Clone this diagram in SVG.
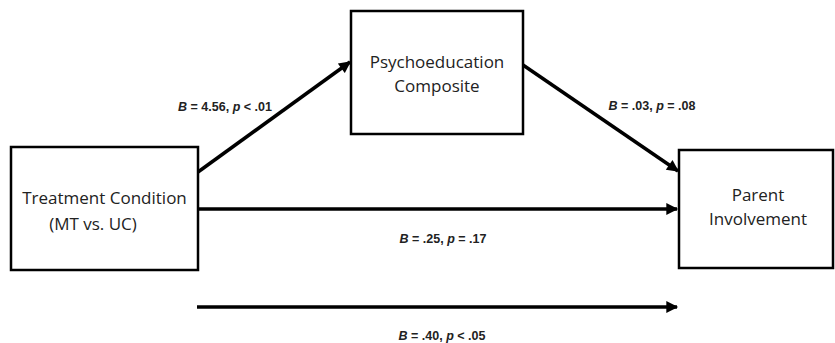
<svg xmlns="http://www.w3.org/2000/svg" width="835" height="343" viewBox="0 0 835 343">
<style>
.box{fill:#fff;stroke:#000;stroke-width:2.5}
.t{font-family:"Open Sans","Liberation Sans",sans-serif;font-size:17px;fill:#222;text-anchor:middle}
.l{font-family:"Liberation Sans",Arial,sans-serif;font-size:12.5px;font-weight:bold;fill:#222;text-anchor:middle}
.c{stroke:#000;stroke-width:3.5;fill:none;marker-end:url(#ah)}
</style>
<defs>
<marker id="ah" viewBox="0 0 10 10" refX="9" refY="5" markerWidth="3.8" markerHeight="3.4" orient="auto" markerUnits="strokeWidth">
<path d="M0,0 L10,5 L0,10 z" fill="#000"/>
</marker>
</defs>
<rect width="835" height="343" fill="#fff"/>
<g id="connectors">
<line class="c" x1="198" y1="172" x2="350" y2="62"/>
<line class="c" x1="523" y1="65" x2="678" y2="171"/>
<line class="c" x1="198" y1="209" x2="677" y2="209"/>
<line class="c" x1="197" y1="307" x2="677" y2="307"/>
<text class="l" x="225" y="111"><tspan font-style="italic">B</tspan> = 4.56, <tspan font-style="italic">p</tspan> &lt; .01</text>
<text class="l" x="652" y="110"><tspan font-style="italic">B</tspan> = .03, <tspan font-style="italic">p</tspan> = .08</text>
<text class="l" x="443" y="243"><tspan font-style="italic">B</tspan> = .25, <tspan font-style="italic">p</tspan> = .17</text>
<text class="l" x="442" y="340"><tspan font-style="italic">B</tspan> = .40, <tspan font-style="italic">p</tspan> &lt; .05</text>
</g>
<g id="treatment">
<rect class="box" x="11" y="147" width="187" height="123"/>
<text class="t" x="104.5" y="204">Treatment Condition</text>
<text class="t" x="93" y="230">(MT vs. UC)</text>
</g>
<g id="psychoeducation">
<rect class="box" x="351" y="11" width="172" height="123"/>
<text class="t" x="437" y="68">Psychoeducation</text>
<text class="t" x="437" y="92">Composite</text>
</g>
<g id="parent">
<rect class="box" x="679" y="150" width="154" height="118"/>
<text class="t" x="758" y="201">Parent</text>
<text class="t" x="758" y="225">Involvement</text>
</g>
</svg>
